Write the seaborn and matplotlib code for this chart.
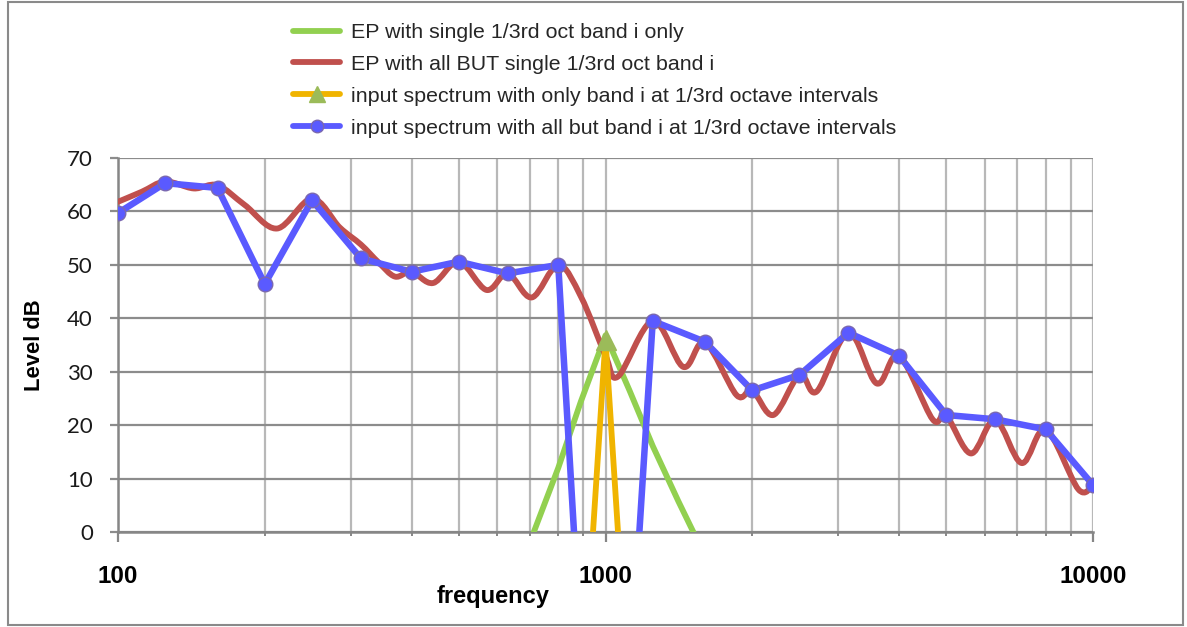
import numpy as np
import pandas as pd
import matplotlib
matplotlib.use("Agg")
import matplotlib.pyplot as plt
from matplotlib.path import Path
from matplotlib.patches import PathPatch, Rectangle
from matplotlib.lines import Line2D
from matplotlib.ticker import FixedLocator, FuncFormatter, NullFormatter
import seaborn as sns

# ---- data -----------------------------------------------------------------
# 1/3-octave band centre frequencies (Hz)
band_freq = [100, 125, 160, 200, 250, 315, 400, 500, 630, 800, 1000,
             1250, 1600, 2000, 2500, 3150, 4000, 5000, 6300, 8000, 10000]
# input spectrum with band i (1 kHz) removed; -100 dB marks an absent band
all_but_band = [59.7, 65.3, 64.4, 46.4, 62.1, 51.2, 48.7, 50.6, 48.4, 50.0, -100,
                39.5, 35.6, 26.5, 29.4, 37.3, 33.0, 21.9, 21.1, 19.2, 8.8]
# input spectrum containing band i only
only_band = [-100, -100, -100, -100, -100, -100, -100, -100, -100, -100, 36.0,
             -100, -100, -100, -100, -100, -100, -100, -100, -100, -100]

# excitation pattern with every band except band i (smoothed curve)
ep_all_but_freq = [100, 112, 125, 143, 160, 182, 212, 250, 285, 315, 342, 370,
                   400, 443, 500, 570, 630, 706, 800, 891, 1000, 1061, 1250,
                   1444, 1600, 1858, 2000, 2210, 2500, 2712, 3150, 3600, 4000,
                   4687, 5000, 5618, 6300, 7140, 8000, 9329, 10000]
ep_all_but_level = [61.8, 63.7, 65.6, 64.3, 64.9, 61.2, 56.8, 62.4, 57.0, 53.8,
                    50.5, 47.8, 48.7, 46.6, 50.6, 45.3, 48.4, 43.9, 50.0, 44.0,
                    33.0, 29.1, 39.5, 30.9, 35.5, 25.6, 26.5, 21.9, 29.4, 26.3,
                    37.3, 27.8, 33.0, 21.1, 21.8, 14.7, 21.0, 12.9, 19.2, 8.0, 8.8]

# excitation pattern of band i on its own (1/6-octave points)
ep_single_freq = [710, 800, 890, 1000, 1120, 1250, 1410, 1600]
ep_single_level = [-0.4, 12.0, 24.4, 36.8, 26.5, 16.1, 5.8, -4.5]

labels = ["EP with single 1/3rd oct band i only",
          "EP with all BUT single 1/3rd oct band i",
          "input spectrum with only band i at 1/3rd octave intervals",
          "input spectrum with all but band i at 1/3rd octave intervals"]

x_ticks = [100, 1000, 10000]
y_ticks = [0, 10, 20, 30, 40, 50, 60, 70]

# ---- colours ----------------------------------------------------------------
C_GREEN = "#92D050"
C_RED = "#C0504D"
C_ORANGE = "#F0B400"
C_BLUE = "#5A5AFF"
C_BLUE_EDGE = "#7A68B0"
C_TRI = "#9BBB59"
C_AXIS = "#868686"
C_HGRID = "#8C8C8C"
C_VGRID = "#B8B8B8"

LW = 4.2


def smooth_path(freq, level):
    """Catmull-Rom style cubic Bezier through the points (log-x space)."""
    pts = np.column_stack([np.log10(freq), np.asarray(level, float)])
    n = len(pts)
    verts = [pts[0]]
    codes = [Path.MOVETO]
    for i in range(n - 1):
        p0 = pts[i - 1] if i > 0 else pts[i]
        p1, p2 = pts[i], pts[i + 1]
        p3 = pts[i + 2] if i + 2 < n else pts[i + 1]
        verts += [p1 + (p2 - p0) / 6.0, p2 - (p3 - p1) / 6.0, p2]
        codes += [Path.CURVE4] * 3
    v = np.array(verts)
    v[:, 0] = 10 ** v[:, 0]
    return Path(v, codes)


sns.set_theme(style="white")
plt.rcParams["font.family"] = ["Liberation Sans", "DejaVu Sans"]

W, H = 1187, 627
fig = plt.figure(figsize=(W / 100, H / 100), dpi=100)
fig.patch.set_facecolor("white")
ax = fig.add_axes([118 / W, 1 - 532 / H, (1093 - 118) / W, (532 - 158) / H])
ax.set_xscale("log")

bands = pd.DataFrame({"freq": band_freq, "all_but": all_but_band, "only": only_band})
single = pd.DataFrame({"freq": ep_single_freq, "level": ep_single_level})

# green: excitation of band i alone
sns.lineplot(data=single, x="freq", y="level", ax=ax, color=C_GREEN, lw=LW,
             estimator=None, sort=False, legend=False, zorder=3)

# red: excitation of all the other bands (smoothed line)
ax.add_patch(PathPatch(smooth_path(ep_all_but_freq, ep_all_but_level),
                       facecolor="none", edgecolor=C_RED, lw=LW,
                       capstyle="round", joinstyle="round", zorder=4))

# orange: input spectrum, band i only
sns.lineplot(data=bands, x="freq", y="only", ax=ax, color=C_ORANGE, lw=LW,
             estimator=None, sort=False, legend=False, zorder=5)
ax.plot([band_freq[10]], [only_band[10]], linestyle="none", marker="^",
        ms=14.5, mfc=C_TRI, mec=C_TRI, zorder=6)

# blue: input spectrum without band i
sns.lineplot(data=bands, x="freq", y="all_but", ax=ax, color=C_BLUE, lw=4.7,
             marker="o", ms=10.5, mfc=C_BLUE, mec=C_BLUE_EDGE, mew=1.0,
             estimator=None, sort=False, legend=False, zorder=7)
for ln in ax.lines:
    ln.set_solid_joinstyle("round")

# ---- axes -------------------------------------------------------------------
ax.set_xlim(100, 10000)
ax.set_ylim(0, 70)
ax.xaxis.set_major_locator(FixedLocator(x_ticks))
ax.xaxis.set_minor_locator(FixedLocator([m * d for d in (100, 1000) for m in range(2, 10)]))
ax.xaxis.set_major_formatter(FuncFormatter(lambda v, p: f"{v:.0f}"))
ax.xaxis.set_minor_formatter(NullFormatter())
ax.yaxis.set_major_locator(FixedLocator(y_ticks))

ax.grid(True, which="major", axis="y", color=C_HGRID, lw=1.6)
ax.grid(True, which="both", axis="x", color=C_VGRID, lw=1.6)
ax.set_axisbelow(True)

for side in ("top", "right"):
    ax.spines[side].set_visible(False)
for side in ("left", "bottom"):
    ax.spines[side].set_color(C_AXIS)
    ax.spines[side].set_linewidth(1.8)

ax.tick_params(axis="y", which="major", direction="out", length=6, width=1.6,
               color=C_HGRID, pad=12, left=True, labelsize=16)
ax.tick_params(axis="x", which="major", direction="out", length=7, width=1.6,
               color=C_AXIS, pad=17, bottom=True, labelsize=17.5)
ax.tick_params(axis="x", which="minor", direction="out", length=3, width=1.4,
               color=C_AXIS, bottom=True)
for t in ax.get_yticklabels():
    t.set_fontfamily(["Lato", "DejaVu Sans"])
    t.set_color("#1a1a1a")
for t in ax.get_xticklabels():
    t.set_fontfamily(["Liberation Sans", "DejaVu Sans"])
    t.set_fontweight("bold")
    t.set_color("black")

ax.set_xlabel("")
ax.set_ylabel("")
fig.text(35 / W, 1 - 345 / H, "Level dB", rotation=90, ha="center", va="center",
         fontsize=15.8, fontweight="bold", color="black")
fig.text(493 / W, 1 - 597 / H, "frequency", ha="center", va="center",
         fontsize=17, fontweight="bold", color="black")

# ---- legend -----------------------------------------------------------------
handles = [
    Line2D([], [], color=C_GREEN, lw=LW),
    Line2D([], [], color=C_RED, lw=LW),
    Line2D([], [], color=C_ORANGE, lw=LW, marker="^", ms=11, mfc=C_TRI, mec=C_TRI),
    Line2D([], [], color=C_BLUE, lw=LW, marker="o", ms=9, mfc=C_BLUE, mec=C_BLUE_EDGE),
]
fig.legend(handles, labels, loc="upper left", bbox_to_anchor=(293 / W, 1 - 23 / H),
           frameon=False, fontsize=15.4, handlelength=2.2, handletextpad=0.5,
           labelspacing=0.6, borderpad=0, borderaxespad=0)

# chart frame
fig.patches.append(Rectangle((8 / W, 1 - 625 / H), (1183 - 8) / W, (625 - 2) / H,
                             transform=fig.transFigure, fill=False,
                             edgecolor="#8A8A8A", lw=1.5))

fig.savefig("out.png", dpi=100, facecolor="white")
